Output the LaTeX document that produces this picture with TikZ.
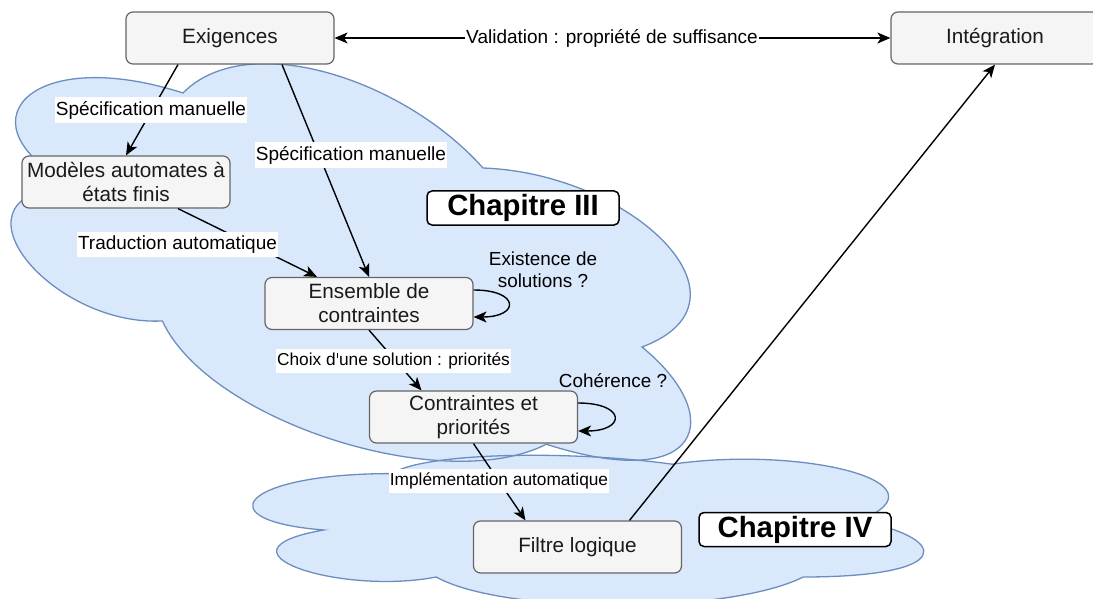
\documentclass[tikz,border=0pt]{standalone}
\usepackage{fontspec}
\setmainfont{Liberation Sans}
\usetikzlibrary{arrows.meta}
\definecolor{cloudfill}{HTML}{DAE8FC}
\definecolor{cloudline}{HTML}{6C8EBF}
\definecolor{boxfill}{HTML}{F5F5F5}
\definecolor{boxline}{HTML}{666666}
\definecolor{txt}{HTML}{1A1A1A}
\newcommand\straightquote{\hspace{0.058em}\rule[0.47em]{0.075em}{0.245em}\hspace{0.058em}}
\begin{document}
\begin{tikzpicture}[x=1pt,y=-1pt,
  box/.style={draw=boxline, fill=boxfill, rounded corners=7pt, line width=1.2pt,
    minimum width=208pt, minimum height=52pt, inner sep=0pt, align=center,
    font=\fontsize{20.7}{24}\selectfont, text=txt},
  chap/.style={draw=black, fill=white, rounded corners=5pt, line width=1.5pt,
    minimum width=192pt, minimum height=34pt, inner sep=0pt,
    font=\bfseries\fontsize{29.3}{32}\selectfont},
  lbl/.style={fill=white, inner xsep=1pt, inner ysep=3pt, text height=15pt,
    text depth=4.5pt, font=\fontsize{19}{21}\selectfont},
  lbls/.style={fill=white, inner xsep=1pt, inner ysep=3pt, text height=13.5pt,
    text depth=4pt, font=\fontsize{17.3}{20}\selectfont},
  note/.style={inner sep=0pt, align=center, font=\fontsize{18.9}{21.5}\selectfont},
  tip/.style={Stealth[length=13pt,width=11pt,inset=3.5pt]},
  conn/.style={line width=1.4pt, -{Stealth[length=13pt,width=11pt,inset=3.5pt]}},
  cloudfillst/.style={fill=cloudfill},
  cloudlinest/.style={draw=cloudline, line width=1.3pt}
]
\useasboundingbox (0,0) rectangle (1093,599);
\clip (0,0) rectangle (1093,599);
\fill[white] (0,0) rectangle (1093,599);

\def\smallcloud{(25,25) .. controls (5,25) and (0,50) .. (16,55)
  .. controls (0,66) and (18,90) .. (31,80)
  .. controls (40,100) and (70,100) .. (80,80)
  .. controls (100,80) and (100,60) .. (87.5,50)
  .. controls (100,30) and (80,10) .. (62.5,20)
  .. controls (50,13) and (30,13) .. (25,25) -- cycle}
\def\bigcloud{(25,25) .. controls (5,25) and (0,50) .. (16,55)
  .. controls (0,66) and (18,90) .. (31,80)
  .. controls (40,100) and (70,100) .. (80,80)
  .. controls (100,80) and (100,60) .. (87.5,50)
  .. controls (100,30) and (80,10) .. (62.5,20)
  .. controls (50,5) and (30,5) .. (25,25) -- cycle}

% cloud fills
\begin{scope}[cm={7.49,0,0,1.88,(204pt,-426.6pt)}]
\path[cloudfillst] \smallcloud;
\end{scope}
\begin{scope}[cm={7.836,-2.516,1.23,3.87,(17.85pt,66.65pt)}]
\path[cloudfillst] \bigcloud;
\end{scope}
% cloud outlines
\begin{scope}[cm={7.49,0,0,1.88,(204pt,-426.6pt)}]
\path[cloudlinest] \smallcloud;
\end{scope}
\begin{scope}[cm={7.836,-2.516,1.23,3.87,(17.85pt,66.65pt)}]
\path[cloudlinest] \bigcloud;
\end{scope}

% nodes
\node[box] (exi) at (230,38) {Exigences};
\node[box] (int) at (995,38) {Intégration};
\node[box] (mod) at (126,182) {Modèles automates à\\états finis};
\node[box] (ens) at (369,303.5) {Ensemble de\\contraintes};
\node[box] (con) at (473.5,417) {Contraintes et\\priorités};
\node[box] (fil) at (577.5,547) {Filtre logique};
\node[chap] (c3) at (523,208) {Chapitre III};
\node[chap] (c4) at (795,529.5) {Chapitre IV};

% connectors
\draw[conn] ([xshift=-52pt]exi.south) -- (mod.north);
\draw[conn] ([xshift=52pt]exi.south) -- (ens.north);
\draw[conn] ([xshift=52pt]mod.south) -- ([xshift=-52pt]ens.north);
\draw[conn] (ens.south) -- ([xshift=-52pt]con.north);
\draw[conn] (con.south) -- ([xshift=-52pt]fil.north);
\draw[conn] ([xshift=52pt]fil.north) -- (int.south);
\draw[line width=1.4pt, {Stealth[length=13pt,width=11pt,inset=3.5pt]}-{Stealth[length=13pt,width=11pt,inset=3.5pt]}] (exi.east) -- (int.west);
\draw[conn] ([yshift=13.5pt]ens.east) to[out=0,in=0,looseness=4.4] ([yshift=-13.5pt]ens.east);
\draw[conn] ([yshift=14pt]con.east) to[out=0,in=0,looseness=4.4] ([yshift=-14pt]con.east);

% labels
\node[lbl] (l1) at (151,110) {Spécification manuelle};
\node[lbl] (l2) at (351,155) {Spécification manuelle};
\node[lbl] (l3) at (177.5,244.5) {Traduction automatique};
\node[lbls] (l4) at (393.5,361) {Choix d\straightquote une solution : priorités};
\node[lbls] (l5) at (499,481) {Implémentation automatique};
\node[lbl] (l6) at (612,38) {Validation : propriété de suffisance};
\node[note] (n1) at (543,269.5) {Existence de\\solutions ?};
\node[note] (n2) at (613,381) {Cohérence ?};
\end{tikzpicture}
\end{document}
